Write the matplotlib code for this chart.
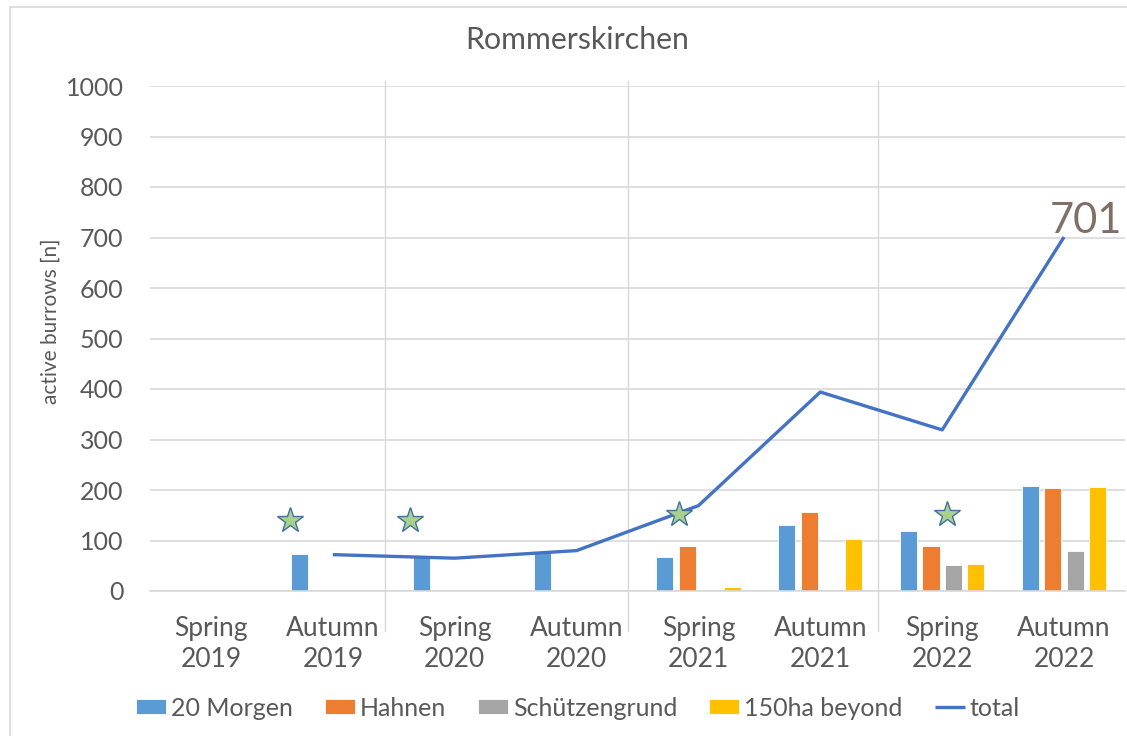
import numpy as np
import matplotlib.pyplot as plt
from matplotlib.patches import Rectangle

plt.rcParams['font.family'] = ['Lato', 'DejaVu Sans']

seasons = ['Spring\n2019', 'Autumn\n2019', 'Spring\n2020', 'Autumn\n2020',
           'Spring\n2021', 'Autumn\n2021', 'Spring\n2022', 'Autumn\n2022']
morgen = [0, 73, 67, 78, 68, 131, 119, 208]
hahnen = [0, 0, 0, 0, 90, 156, 90, 203]
schuetzen = [0, 0, 0, 0, 0, 0, 51, 80]
beyond = [0, 0, 0, 0, 8, 102, 53, 205]
total = [np.nan, 72, 65, 80, 169, 394, 319, 701]

series_names = ['20 Morgen', 'Hahnen', 'Schützengrund', '150ha beyond']
colors = ['#5B9BD5', '#ED7D31', '#A5A5A5', '#FFC000']

# stars marking sampling events (drawn shapes in the original)
star_x = [0.65, 1.63, 3.84, 6.04]
star_y = [141, 141, 152, 152]

# year separator lines
sep_x = [1.43, 3.42, 5.47]

grey = '#595959'
grid_c = '#D9D9D9'

fig = plt.figure(figsize=(11.27, 7.36), dpi=100)
ax = fig.add_axes([150 / 1127, 1 - 591 / 736, 975 / 1127, 505 / 736])

# outer chart border
fig.patches.append(Rectangle((10 / 1127, -0.1), 1.2, 1 - 7 / 736 + 0.1,
                             transform=fig.transFigure, fill=False,
                             edgecolor=grid_c, linewidth=1.2))

x = np.arange(len(seasons))
w = 0.14
step = 0.184
for i, (vals, name, c) in enumerate(zip([morgen, hahnen, schuetzen, beyond], series_names, colors)):
    ax.bar(x + (i - 1.5) * step, vals, width=w, color=c, edgecolor='white',
           linewidth=0.6, label=name, zorder=2)

ax.plot(x, total, color='#4472C4', linewidth=2.4, label='total', zorder=3,
        solid_capstyle='butt')

ax.plot(star_x, star_y, linestyle='none', marker='*', markersize=19,
        markerfacecolor='#A9D18E', markeredgecolor='#41719C',
        markeredgewidth=1.0, zorder=4)

for sx in sep_x:
    ax.plot([sx, sx], [-0.08, 1.01], color=grid_c, linewidth=1.0,
            transform=ax.get_xaxis_transform(), clip_on=False, zorder=1)

ax.annotate(str(total[-1]), xy=(x[-1], total[-1]), xytext=(-10, 3),
            textcoords='offset points', ha='left', va='baseline',
            fontsize=30, color='#7F6F66')

ax.set_xlim(-0.5, len(seasons) - 0.5)
ax.set_ylim(0, 1000)
ax.set_yticks(np.arange(0, 1001, 100))
ax.set_xticks(x)
ax.set_xticklabels(seasons, fontsize=19, color=grey, linespacing=1.32)
ax.tick_params(axis='x', length=0, pad=18)
ax.tick_params(axis='y', length=0, pad=19, labelsize=18, labelcolor=grey)
ax.grid(axis='y', color=grid_c, linewidth=1.2, zorder=0)
ax.set_axisbelow(True)
for s in ['top', 'right', 'left']:
    ax.spines[s].set_visible(False)
ax.spines['bottom'].set_color(grid_c)
ax.spines['bottom'].set_linewidth(1.2)

ax.set_ylabel('active burrows [n]', fontsize=15, color=grey)
ax.yaxis.set_label_coords(-0.092, 0.535)

fig.text(577 / 1127, 1 - 40 / 736, 'Rommerskirchen', ha='center', va='center',
         fontsize=21.8, color=grey)

handles, labels = ax.get_legend_handles_labels()
order = [1, 2, 3, 4, 0]
fig.legend([handles[k] for k in order], [labels[k] for k in order],
           loc='center', bbox_to_anchor=(578 / 1127, 1 - 708 / 736), ncol=5,
           frameon=False, fontsize=18, labelcolor=grey, handlelength=1.2,
           handleheight=0.52, handletextpad=0.2, columnspacing=1.28)

fig.savefig('out.png', dpi=100)
